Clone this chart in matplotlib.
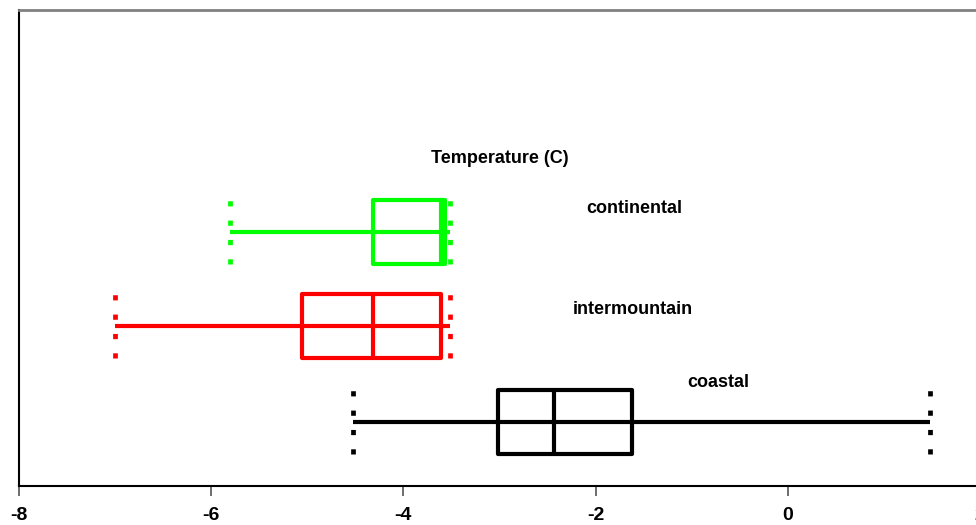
import matplotlib
matplotlib.use("Agg")
import matplotlib.pyplot as plt
from matplotlib.patches import Rectangle

plt.rcParams['font.family'] = ['Liberation Sans', 'DejaVu Sans']

categories = ["coastal", "intermountain", "continental"]
colors = ["#000000", "#ff0000", "#00ff00"]
y_pos = [0.67, 1.68, 2.67]
mins = [-4.52, -7.0, -5.80]
q1s = [-3.02, -5.06, -4.32]
medians = [-2.43, -4.32, -3.61]
q3s = [-1.625, -3.61, -3.57]
maxs = [1.48, -3.52, -3.52]
label_pos = [(-0.72, 1.09), (-1.61, 1.85), (-1.6, 2.92)]
xticks = [-8, -6, -4, -2, 0, 2]
title = "Temperature (C)"

W, H = 976, 525
fig = plt.figure(figsize=(W / 100, H / 100), dpi=100)
ax = fig.add_axes([19 / W, (H - 486) / H, (980 - 19) / W, (486 - 10) / H])
ax.set_xlim(-8, 2)
ax.set_ylim(0, 5)

half = 0.335
lw = 3.0
for y, lo, a, m, b, hi, c in zip(y_pos, mins, q1s, medians, q3s, maxs, colors):
    ax.hlines(y, lo, hi, color=c, lw=lw, zorder=3)
    ax.add_patch(Rectangle((a, y - half), b - a, 2 * half, fill=False,
                           edgecolor=c, lw=lw, zorder=3, joinstyle='round'))
    ax.vlines(m, y - half, y + half, color=c, lw=lw, zorder=3)
    for x in (lo, hi):
        ax.vlines(x, y - half, y + half, color=c, lw=3.4,
                  linestyles=[(0, (1.1, 3.0))], zorder=3)

for name, (lx, ly) in zip(categories, label_pos):
    ax.text(lx, ly, name, fontsize=13, fontweight='bold', ha='center', va='center')
ax.text(-3.0, 3.44, title, fontsize=13, fontweight='bold', ha='center', va='center')

ax.set_xticks(xticks)
ax.set_xticklabels([str(t) for t in xticks], fontsize=14, fontweight='bold')
ax.set_yticks([])
ax.tick_params(axis='x', direction='out', length=7, width=1.2, pad=8,
               color='#555555')
ax.spines['top'].set_color('#808080')
ax.spines['top'].set_linewidth(2)
ax.spines['left'].set_linewidth(1.5)
ax.spines['bottom'].set_linewidth(1.5)
ax.spines['right'].set_visible(False)

fig.savefig("out.png", dpi=100)
